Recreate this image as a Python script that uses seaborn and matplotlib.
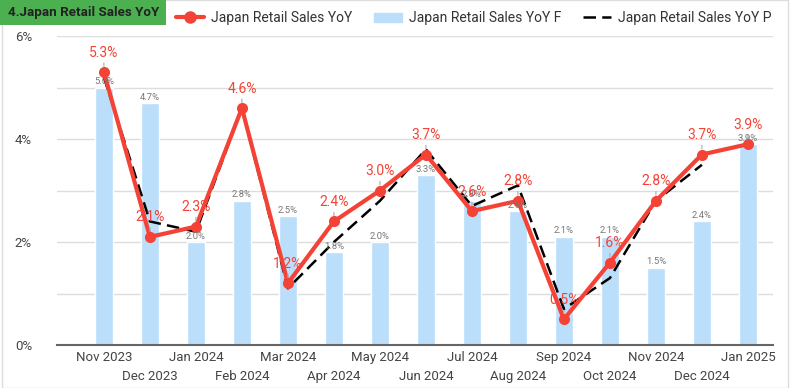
import matplotlib.pyplot as plt
import matplotlib.patches as mpatches
import matplotlib.lines as mlines
import numpy as np
import pandas as pd
import seaborn as sns

# data
months = ["Nov 2023", "Dec 2023", "Jan 2024", "Feb 2024", "Mar 2024", "Apr 2024",
          "May 2024", "Jun 2024", "Jul 2024", "Aug 2024", "Sep 2024", "Oct 2024",
          "Nov 2024", "Dec 2024", "Jan 2025"]
actual = [5.3, 2.1, 2.3, 4.6, 1.2, 2.4, 3.0, 3.7, 2.6, 2.8, 0.5, 1.6, 2.8, 3.7, 3.9]
forecast = [5.0, 4.7, 2.0, 2.8, 2.5, 1.8, 2.0, 3.3, 2.8, 2.6, 2.1, 2.1, 1.5, 2.4, 3.9]
previous = [5.2, 2.4, 2.2, 4.6, 1.1, 2.0, 2.8, 3.8, 2.7, 3.1, 0.7, 1.3, 2.8, 3.5, np.nan]

RED = "#F44336"
BLUE = "#BBDEFB"

sns.set_style("white")
plt.rcParams["font.family"] = ["Roboto", "DejaVu Sans"]

df = pd.DataFrame({"pos": np.arange(len(months)), "month": months,
                   "actual": actual, "forecast": forecast, "previous": previous})

fig = plt.figure(figsize=(7.95, 3.88), dpi=100)
ax = fig.add_axes([0.0717, 0.1108, 0.9003, 0.7962])

sns.barplot(data=df, x="pos", y="forecast", color=BLUE, saturation=1, width=0.4,
            ax=ax, zorder=2)
sns.lineplot(data=df, x="pos", y="previous", color="black", lw=1.8, ax=ax, zorder=3)
ax.lines[-1].set_linestyle((0, (5, 2.5)))
sns.lineplot(data=df, x="pos", y="actual", color=RED, lw=3, marker="o",
             markersize=8, markeredgewidth=0, ax=ax, zorder=4)

# bar labels
for i, v in enumerate(forecast):
    ax.annotate(f"{v:.1f}%", (i, v), xytext=(0, 1), textcoords="offset points",
                ha="center", va="bottom", fontsize=6.8, color="#777777", zorder=5)

# actual labels with leader lines
for i, v in enumerate(actual):
    ax.annotate(f"{v:.1f}%", (i, v), xytext=(0, 9), textcoords="offset points",
                ha="center", va="bottom", fontsize=10, color=RED, zorder=6,
                arrowprops=dict(arrowstyle="-", color="#aaaaaa", lw=0.8,
                                shrinkA=0, shrinkB=4))

ax.set_xlim(-1.02, 14.54)
ax.set_ylim(0, 6)
ax.set_yticks(range(7))
ax.set_yticklabels(["0%", "", "2%", "", "4%", "", "6%"])
ax.set_xticks(range(len(months)))
ax.set_xticklabels([m if i % 2 == 0 else "\n" + m for i, m in enumerate(months)],
                   linespacing=1.6)
ax.tick_params(axis="both", length=0, labelsize=9.5, colors="#444444")
ax.tick_params(axis="y", pad=18)
ax.tick_params(axis="x", pad=4)
ax.grid(axis="y", color="#dddddd", lw=1, zorder=0)
ax.set_axisbelow(True)
for s in ["top", "right", "left"]:
    ax.spines[s].set_visible(False)
ax.spines["bottom"].set_color("#666666")
ax.spines["bottom"].set_linewidth(1.5)
ax.set_xlabel("")
ax.set_ylabel("")

# legend
h1 = mlines.Line2D([], [], color=RED, lw=3, marker="o", markersize=8)
h2 = mpatches.Patch(color=BLUE)
h3 = mlines.Line2D([], [], color="black", lw=1.8, linestyle=(0, (5, 2.5)))
fig.legend([h1, h2, h3], ["Japan Retail Sales YoY", "Japan Retail Sales YoY F",
                          "Japan Retail Sales YoY P"],
           loc="center", bbox_to_anchor=(0.596, 0.953), ncol=3, frameon=False,
           fontsize=10, handlelength=2.0, handletextpad=0.5, columnspacing=1.6,
           labelcolor="#333333")

# outer border and title box
fig.patches.append(mpatches.Rectangle((0.003, 0.0), 0.988, 0.999, transform=fig.transFigure,
                                      fill=False, edgecolor="#dddddd", lw=1))
fig.patches.append(mpatches.Rectangle((0, 0.936), 166 / 795, 0.064,
                                      transform=fig.transFigure,
                                      facecolor="#4CAF50", edgecolor="none"))
fig.text(8 / 795, 0.968, "4.Japan Retail Sales YoY", fontsize=9.6, fontweight="bold",
         color="#222222", va="center", ha="left")

plt.savefig("out.png", dpi=100)
